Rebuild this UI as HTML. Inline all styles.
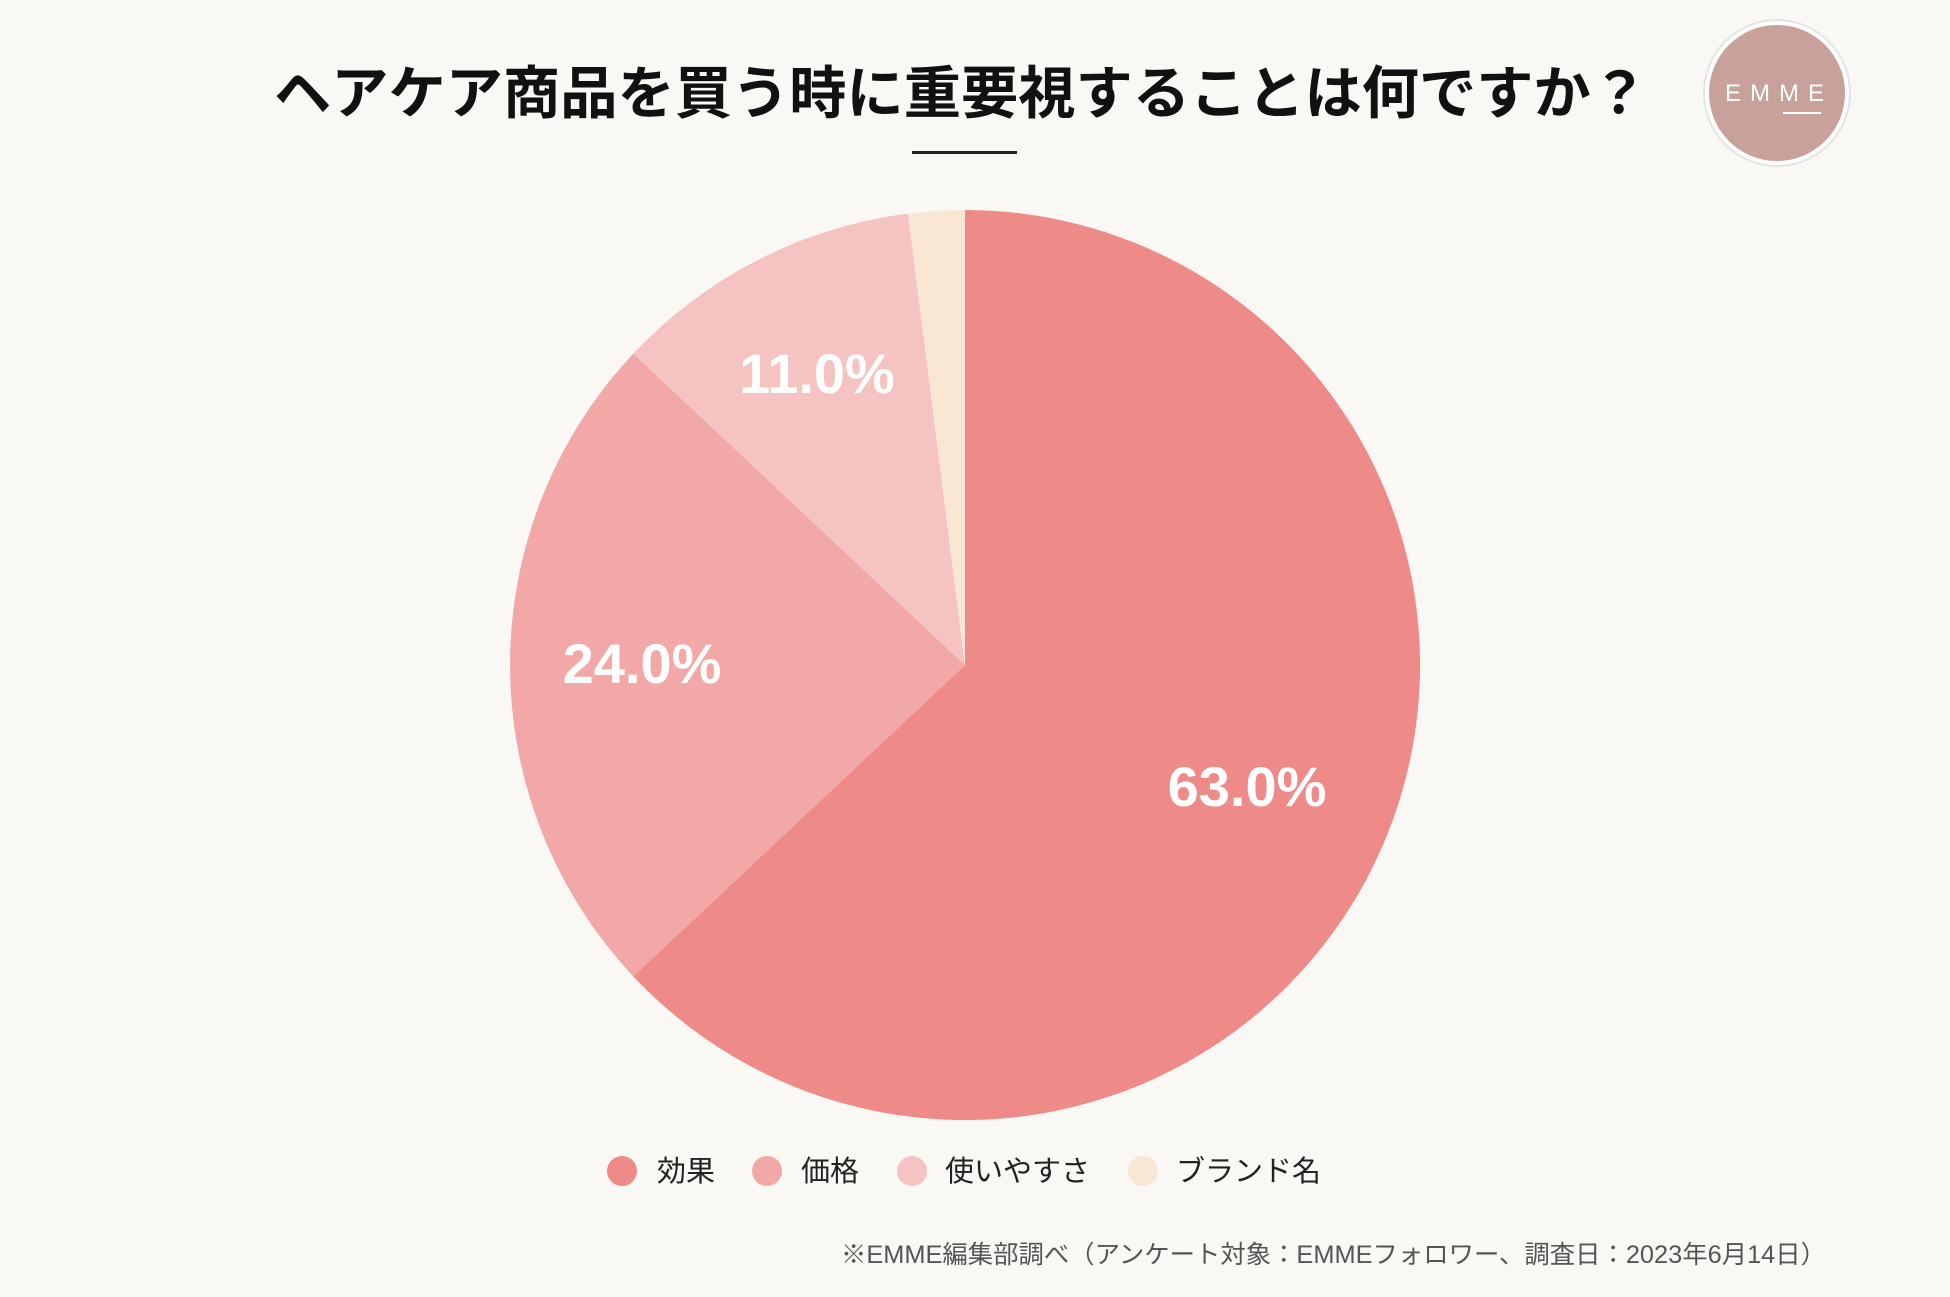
<!DOCTYPE html>
<html><head><meta charset="utf-8"><style>
body{margin:0;width:1950px;height:1297px;background:#FAF8F4;overflow:hidden;font-family:"Liberation Sans","Noto Sans CJK JP",sans-serif;}
</style></head><body>
<svg width="1950" height="1297" xmlns="http://www.w3.org/2000/svg" style="position:absolute;left:0;top:0">
<text x="961" y="113" text-anchor="middle" font-size="57" font-weight="bold" fill="#111" textLength="1374" lengthAdjust="spacingAndGlyphs" font-family="Noto Sans CJK JP, sans-serif">ヘアケア商品を買う時に重要視することは何ですか？</text>
<rect x="912" y="151" width="105" height="3" fill="#222"/>
<circle cx="1777" cy="93" r="73" fill="#fff" stroke="#e4e4e4" stroke-width="2"/>
<circle cx="1777" cy="93" r="68" fill="#C8A19B"/>
<text x="1779" y="101" text-anchor="middle" font-size="24" fill="#fff" letter-spacing="9" font-family="Liberation Sans, sans-serif">EMME</text>
<rect x="1783" y="112" width="38" height="2" fill="#fff"/>
<path d="M965,665 L965,210 A455,455 0 1,1 633.3,976.4 Z" fill="#EE8A87"/>
<path d="M965,665 L633.3,976.4 A455,455 0 0,1 633.3,353.6 Z" fill="#F2A8A7"/>
<path d="M965,665 L633.3,353.6 A455,455 0 0,1 908,213.6 Z" fill="#F5C3C2"/>
<path d="M965,665 L908,213.6 A455,455 0 0,1 965,210 Z" fill="#F9E6D3"/>
<g fill="#fff" font-weight="bold" font-size="56" text-anchor="middle" font-family="Liberation Sans, sans-serif">
<text x="1247" y="806">63.0%</text>
<text x="642" y="683">24.0%</text>
<text x="817" y="393">11.0%</text>
</g>
<g font-size="29" fill="#222" font-family="Noto Sans CJK JP, sans-serif">
<circle cx="622" cy="1171" r="15" fill="#EE8A87"/><text x="657" y="1181">効果</text>
<circle cx="767" cy="1171" r="15" fill="#F2A8A7"/><text x="801" y="1181">価格</text>
<circle cx="912" cy="1171" r="15" fill="#F5C3C2"/><text x="945" y="1181">使いやすさ</text>
<circle cx="1143" cy="1171" r="15" fill="#F9E6D3"/><text x="1176" y="1181">ブランド名</text>
</g>
<text x="841" y="1263" font-size="25" fill="#555" textLength="985" lengthAdjust="spacingAndGlyphs" font-family="Liberation Sans, Noto Sans CJK JP, sans-serif">※EMME編集部調べ（アンケート対象：EMMEフォロワー、調査日：2023年6月14日）</text>
</svg>
</body></html>
